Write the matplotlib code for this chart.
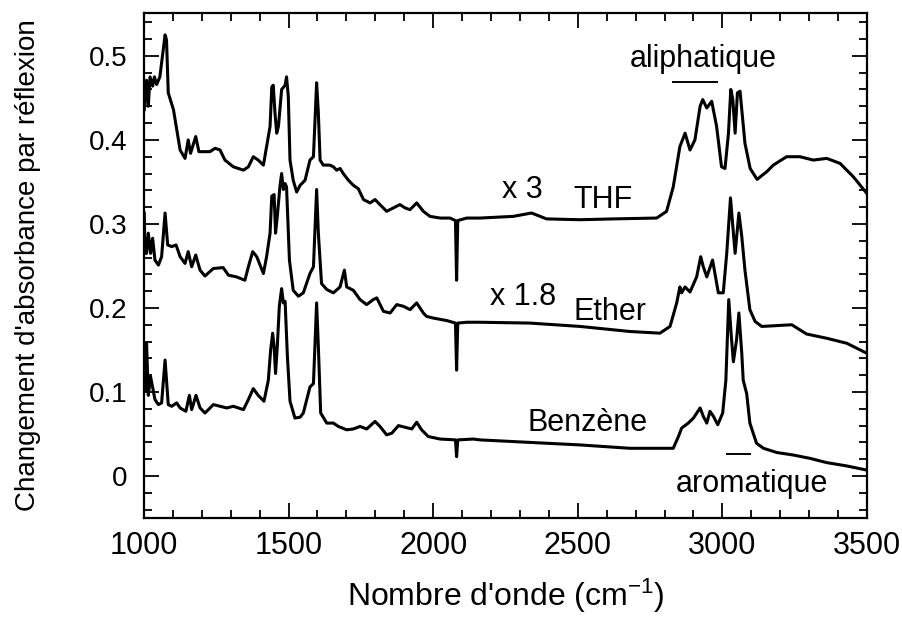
import matplotlib
matplotlib.use("Agg")
import matplotlib.pyplot as plt
from matplotlib.ticker import MultipleLocator

plt.rcParams["font.family"] = ["Liberation Sans", "DejaVu Sans"]
plt.rcParams["mathtext.default"] = "regular"

# THF (x 3)
thf_wn = [1001, 1009, 1015, 1021, 1030, 1036, 1044, 1055, 1073, 1078, 1084, 1102, 1125, 1142,
          1153, 1161, 1179, 1190, 1205, 1228, 1246, 1263, 1280, 1309, 1344, 1361, 1378, 1395,
          1413, 1424, 1436, 1442, 1447, 1453, 1459, 1465, 1476, 1488, 1493, 1499, 1505, 1516,
          1528, 1540, 1557, 1574, 1586, 1597, 1603, 1609, 1620, 1643, 1655, 1666, 1678, 1689,
          1707, 1724, 1741, 1759, 1782, 1799, 1816, 1839, 1862, 1885, 1903, 1920, 1943, 1966,
          1989, 2024, 2058, 2077, 2081, 2085, 2116, 2162, 2277, 2340, 2392, 2508, 2623, 2773,
          2807, 2830, 2853, 2871, 2888, 2905, 2923, 2932, 2946, 2963, 2980, 2997, 3009, 3021,
          3029, 3036, 3044, 3052, 3061, 3078, 3096, 3120, 3138, 3153, 3176, 3222, 3268, 3314,
          3361, 3407, 3453, 3500]
thf_abs = [0.436, 0.471, 0.440, 0.475, 0.464, 0.475, 0.466, 0.475, 0.525, 0.519, 0.456, 0.436,
           0.388, 0.378, 0.400, 0.384, 0.404, 0.386, 0.386, 0.386, 0.390, 0.388, 0.376, 0.368,
           0.364, 0.368, 0.380, 0.376, 0.370, 0.392, 0.416, 0.463, 0.465, 0.432, 0.408, 0.416,
           0.460, 0.465, 0.475, 0.452, 0.376, 0.352, 0.338, 0.346, 0.352, 0.376, 0.380, 0.468,
           0.432, 0.376, 0.370, 0.370, 0.368, 0.364, 0.366, 0.360, 0.352, 0.346, 0.342, 0.329,
           0.325, 0.329, 0.323, 0.315, 0.319, 0.323, 0.319, 0.317, 0.325, 0.315, 0.309, 0.307,
           0.307, 0.304, 0.233, 0.304, 0.307, 0.307, 0.309, 0.313, 0.306, 0.305, 0.306, 0.307,
           0.315, 0.344, 0.392, 0.408, 0.388, 0.400, 0.440, 0.448, 0.438, 0.446, 0.416, 0.368,
           0.366, 0.408, 0.460, 0.448, 0.408, 0.456, 0.458, 0.396, 0.366, 0.353, 0.358, 0.362,
           0.370, 0.380, 0.380, 0.376, 0.378, 0.372, 0.356, 0.336]

# Ether (x 1.8)
ether_wn = [1001, 1004, 1009, 1015, 1023, 1030, 1038, 1050, 1061, 1073, 1082, 1096, 1111, 1125,
            1142, 1153, 1165, 1179, 1194, 1211, 1240, 1274, 1292, 1320, 1349, 1361, 1376, 1390,
            1413, 1424, 1436, 1442, 1450, 1455, 1461, 1470, 1476, 1482, 1488, 1493, 1503, 1516,
            1534, 1551, 1574, 1586, 1597, 1603, 1614, 1632, 1655, 1678, 1693, 1701, 1724, 1747,
            1770, 1793, 1805, 1828, 1851, 1874, 1897, 1920, 1943, 1966, 1977, 2000, 2047, 2077,
            2081, 2085, 2116, 2162, 2335, 2508, 2680, 2784, 2819, 2842, 2853, 2859, 2871, 2888,
            2911, 2925, 2934, 2946, 2966, 2986, 3003, 3015, 3028, 3038, 3044, 3057, 3067, 3078,
            3095, 3113, 3136, 3188, 3240, 3291, 3360, 3430, 3500]
ether_abs = [0.313, 0.265, 0.265, 0.289, 0.265, 0.283, 0.257, 0.251, 0.261, 0.313, 0.275, 0.273,
             0.275, 0.261, 0.253, 0.267, 0.249, 0.263, 0.245, 0.238, 0.247, 0.248, 0.239, 0.237,
             0.233, 0.249, 0.267, 0.261, 0.241, 0.261, 0.289, 0.333, 0.335, 0.289, 0.309, 0.344,
             0.360, 0.341, 0.348, 0.344, 0.257, 0.221, 0.214, 0.218, 0.241, 0.249, 0.341, 0.289,
             0.229, 0.222, 0.218, 0.225, 0.245, 0.225, 0.221, 0.210, 0.204, 0.210, 0.212, 0.196,
             0.194, 0.204, 0.202, 0.198, 0.206, 0.194, 0.190, 0.188, 0.185, 0.182, 0.126, 0.182,
             0.183, 0.183, 0.182, 0.178, 0.172, 0.170, 0.178, 0.206, 0.225, 0.218, 0.225, 0.219,
             0.237, 0.261, 0.249, 0.237, 0.257, 0.218, 0.218, 0.265, 0.331, 0.289, 0.265, 0.313,
             0.285, 0.245, 0.198, 0.184, 0.178, 0.179, 0.180, 0.169, 0.164, 0.158, 0.146]

# Benzene
benz_wn = [1001, 1006, 1009, 1015, 1023, 1032, 1038, 1050, 1061, 1073, 1078, 1084, 1096, 1113,
           1125, 1145, 1157, 1165, 1180, 1194, 1211, 1240, 1263, 1286, 1309, 1344, 1361, 1378,
           1395, 1415, 1430, 1438, 1445, 1450, 1455, 1461, 1468, 1476, 1482, 1488, 1496, 1505,
           1522, 1540, 1551, 1574, 1586, 1597, 1603, 1611, 1632, 1655, 1672, 1701, 1724, 1747,
           1770, 1799, 1816, 1839, 1857, 1880, 1903, 1926, 1943, 1960, 1983, 2024, 2077, 2081,
           2085, 2139, 2162, 2335, 2508, 2680, 2830, 2848, 2859, 2882, 2900, 2923, 2934, 2946,
           2957, 2969, 2984, 3001, 3012, 3022, 3030, 3038, 3049, 3057, 3067, 3072, 3084, 3095,
           3118, 3142, 3188, 3245, 3303, 3360, 3430, 3500]
benz_abs = [0.142, 0.102, 0.158, 0.096, 0.118, 0.102, 0.091, 0.085, 0.087, 0.138, 0.114, 0.085,
            0.083, 0.087, 0.081, 0.077, 0.096, 0.079, 0.096, 0.081, 0.075, 0.085, 0.083, 0.081,
            0.083, 0.079, 0.091, 0.104, 0.096, 0.089, 0.114, 0.150, 0.170, 0.154, 0.122, 0.154,
            0.202, 0.223, 0.206, 0.208, 0.142, 0.089, 0.069, 0.070, 0.075, 0.106, 0.110, 0.206,
            0.154, 0.075, 0.063, 0.063, 0.059, 0.055, 0.056, 0.059, 0.056, 0.065, 0.059, 0.049,
            0.051, 0.060, 0.058, 0.056, 0.064, 0.055, 0.047, 0.044, 0.043, 0.023, 0.043, 0.044,
            0.043, 0.040, 0.037, 0.033, 0.033, 0.047, 0.057, 0.063, 0.069, 0.081, 0.071, 0.063,
            0.077, 0.071, 0.061, 0.075, 0.114, 0.210, 0.170, 0.136, 0.162, 0.194, 0.146, 0.114,
            0.098, 0.063, 0.039, 0.033, 0.028, 0.025, 0.021, 0.016, 0.012, 0.007]

x_ticks = [1000, 1500, 2000, 2500, 3000, 3500]
y_ticks = [0, 0.1, 0.2, 0.3, 0.4, 0.5]
y_labels = ["0", "0.1", "0.2", "0.3", "0.4", "0.5"]

fig = plt.figure(figsize=(9.02, 6.17), dpi=100)
ax = fig.add_axes([0.1596, 0.1604, 0.8016, 0.8185])

for wn, ab in [(thf_wn, thf_abs), (ether_wn, ether_abs), (benz_wn, benz_abs)]:
    ax.plot(wn, ab, color="black", lw=2.2)

ax.set_xlim(1000, 3500)
ax.set_ylim(-0.05, 0.551)
ax.set_xticks(x_ticks)
ax.set_yticks(y_ticks)
ax.set_yticklabels(y_labels)
ax.xaxis.set_minor_locator(MultipleLocator(100))
ax.yaxis.set_minor_locator(MultipleLocator(0.02))
ax.tick_params(which="both", direction="in", top=True, right=True, width=1.3)
ax.tick_params(which="major", length=11)
ax.tick_params(which="minor", length=5.5)
ax.tick_params(axis="x", pad=9, labelsize=22)
ax.tick_params(axis="y", pad=12, labelsize=20)
for s in ax.spines.values():
    s.set_linewidth(1.6)

ax.set_xlabel("Nombre d'onde (cm$^{-1}$)", fontsize=23, labelpad=12)
ax.set_ylabel("Changement d'absorbance par réflexion", fontsize=20, labelpad=34)

fs = 22
ax.text(2307, 0.340, "x 3", fontsize=fs, ha="center", va="center")
ax.text(2587, 0.329, "THF", fontsize=fs, ha="center", va="center")
ax.text(2310, 0.213, "x 1.8", fontsize=fs, ha="center", va="center")
ax.text(2611, 0.195, "Ether", fontsize=fs, ha="center", va="center")
ax.text(2535, 0.063, "Benzène", fontsize=fs, ha="center", va="center")
ax.text(2933, 0.496, "aliphatique", fontsize=fs, ha="center", va="center")
ax.text(3102, -0.0095, "aromatique", fontsize=fs, ha="center", va="center")
ax.plot([2828, 2980], [0.469, 0.469], color="black", lw=1.4)
ax.plot([3016, 3096], [0.026, 0.026], color="black", lw=1.4)

fig.savefig("out.png", dpi=100)
